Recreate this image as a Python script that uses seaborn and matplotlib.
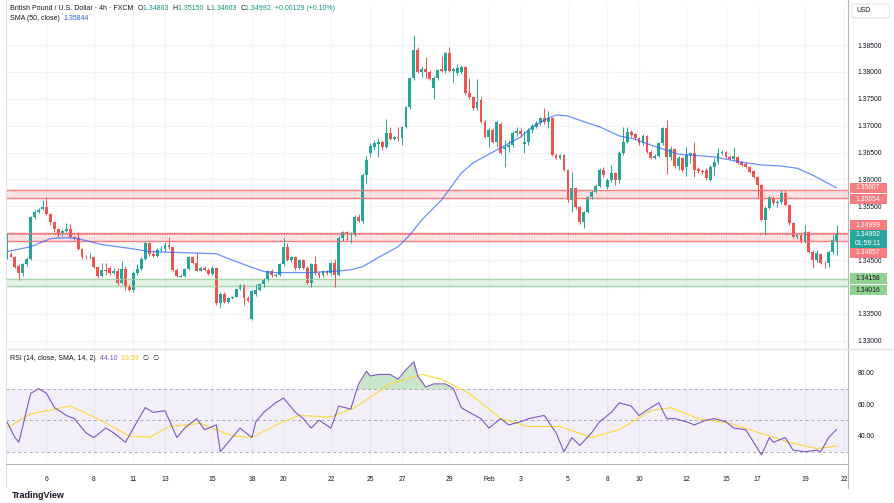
import numpy as np
import pandas as pd
import seaborn as sns
import matplotlib.pyplot as plt
from matplotlib.patches import Rectangle, FancyBboxPatch
from matplotlib.lines import Line2D

# GBP/USD 4h candles (FXCM)
opens = [
    1.3456, 1.3462, 1.3456, 1.3440, 1.3427, 1.3442, 1.3453, 1.3531, 1.3540, 1.3545,
    1.3549, 1.3536, 1.3521, 1.3508, 1.3499, 1.3504, 1.3508, 1.3494, 1.3492, 1.3471,
    1.3456, 1.3455, 1.3456, 1.3438, 1.3421, 1.3432, 1.3436, 1.3427, 1.3430, 1.3408,
    1.3434, 1.3401, 1.3395, 1.3427, 1.3434, 1.3453, 1.3482, 1.3462, 1.3458, 1.3469,
    1.3471, 1.3479, 1.3475, 1.3432, 1.3419, 1.3421, 1.3434, 1.3456, 1.3444, 1.3430,
    1.3436, 1.3432, 1.3425, 1.3436, 1.3371, 1.3388, 1.3373, 1.3379, 1.3382, 1.3397,
    1.3403, 1.3379, 1.3341, 1.3388, 1.3395, 1.3405, 1.3414, 1.3430, 1.3421, 1.3423,
    1.3442, 1.3475, 1.3451, 1.3456, 1.3436, 1.3451, 1.3436, 1.3408, 1.3442, 1.3427,
    1.3423, 1.3429, 1.3427, 1.3445, 1.3423, 1.3492, 1.3503, 1.3499, 1.3499, 1.3531,
    1.3523, 1.3608, 1.3649, 1.3660, 1.3666, 1.3670, 1.3660, 1.3687, 1.3675, 1.3679,
    1.3677, 1.3698, 1.3735, 1.3789, 1.3841, 1.3800, 1.3805, 1.3800, 1.3770, 1.3789,
    1.3805, 1.3802, 1.3835, 1.3802, 1.3798, 1.3800, 1.3809, 1.3761, 1.3753, 1.3733,
    1.3748, 1.3707, 1.3679, 1.3692, 1.3670, 1.3703, 1.3657, 1.3660, 1.3664, 1.3687,
    1.3690, 1.3666, 1.3670, 1.3692, 1.3698, 1.3705, 1.3714, 1.3707, 1.3714, 1.3646,
    1.3640, 1.3646, 1.3618, 1.3562, 1.3584, 1.3549, 1.3521, 1.3540, 1.3568, 1.3577,
    1.3588, 1.3618, 1.3586, 1.3599, 1.3612, 1.3599, 1.3649, 1.3670, 1.3688, 1.3685,
    1.3677, 1.3668, 1.3681, 1.3651, 1.3640, 1.3644, 1.3668, 1.3696, 1.3642, 1.3657,
    1.3625, 1.3640, 1.3623, 1.3646, 1.3649, 1.3620, 1.3616, 1.3618, 1.3599, 1.3623,
    1.3633, 1.3649, 1.3651, 1.3642, 1.3638, 1.3642, 1.3633, 1.3629, 1.3623, 1.3616,
    1.3605, 1.3590, 1.3525, 1.3547, 1.3566, 1.3557, 1.3558, 1.3575, 1.3553, 1.3519,
    1.3494, 1.3497, 1.3484, 1.3503, 1.3466, 1.3451, 1.3462, 1.3445, 1.3445, 1.3466,
    1.34863,
]
highs = [
    1.3501, 1.3466, 1.3458, 1.3442, 1.3444, 1.3455, 1.3532, 1.3543, 1.3547, 1.3562,
    1.3568, 1.3538, 1.3523, 1.3510, 1.3508, 1.3519, 1.3518, 1.3495, 1.3503, 1.3473,
    1.3460, 1.3464, 1.3458, 1.3440, 1.3444, 1.3444, 1.3440, 1.3436, 1.3436, 1.3449,
    1.3440, 1.3405, 1.3429, 1.3442, 1.3456, 1.3486, 1.3484, 1.3469, 1.3473, 1.3477,
    1.3484, 1.3494, 1.3477, 1.3436, 1.3425, 1.3436, 1.3458, 1.3458, 1.3464, 1.3440,
    1.3440, 1.3436, 1.3440, 1.3438, 1.3390, 1.3390, 1.3382, 1.3384, 1.3399, 1.3406,
    1.3405, 1.3384, 1.3395, 1.3405, 1.3408, 1.3416, 1.3432, 1.3434, 1.3427, 1.3444,
    1.3492, 1.3482, 1.3458, 1.3458, 1.3453, 1.3453, 1.3440, 1.3445, 1.3458, 1.3430,
    1.3432, 1.3432, 1.3447, 1.3453, 1.3495, 1.3504, 1.3504, 1.3503, 1.3534, 1.3536,
    1.3612, 1.3644, 1.3668, 1.3673, 1.3677, 1.3673, 1.3713, 1.3698, 1.3681, 1.3698,
    1.3700, 1.3737, 1.3791, 1.3869, 1.3846, 1.3811, 1.3828, 1.3804, 1.3792, 1.3805,
    1.3830, 1.3837, 1.3846, 1.3809, 1.3815, 1.3813, 1.3811, 1.3789, 1.3755, 1.3787,
    1.3753, 1.3711, 1.3696, 1.3696, 1.3711, 1.3707, 1.3673, 1.3673, 1.3690, 1.3698,
    1.3696, 1.3690, 1.3696, 1.3703, 1.3709, 1.3716, 1.3733, 1.3727, 1.3716, 1.3649,
    1.3647, 1.3647, 1.3620, 1.3614, 1.3586, 1.3551, 1.3542, 1.3570, 1.3581, 1.3592,
    1.3621, 1.3623, 1.3603, 1.3627, 1.3614, 1.3653, 1.3698, 1.3698, 1.3692, 1.3687,
    1.3679, 1.3685, 1.3683, 1.3655, 1.3647, 1.3670, 1.3698, 1.3711, 1.3662, 1.3659,
    1.3644, 1.3642, 1.3660, 1.3651, 1.3670, 1.3623, 1.3620, 1.3621, 1.3627, 1.3640,
    1.3659, 1.3655, 1.3653, 1.3646, 1.3660, 1.3644, 1.3634, 1.3633, 1.3625, 1.3618,
    1.3607, 1.3592, 1.3551, 1.3570, 1.3570, 1.3562, 1.3581, 1.3581, 1.3555, 1.3521,
    1.3499, 1.3499, 1.3516, 1.3504, 1.3468, 1.3468, 1.3464, 1.3449, 1.3469, 1.3497,
    1.35150,
]
lows = [
    1.3453, 1.3455, 1.3436, 1.3414, 1.3421, 1.3440, 1.3451, 1.3527, 1.3538, 1.3543,
    1.3534, 1.3516, 1.3503, 1.3494, 1.3495, 1.3503, 1.3492, 1.3488, 1.3469, 1.3453,
    1.3453, 1.3453, 1.3436, 1.3416, 1.3418, 1.3423, 1.3423, 1.3425, 1.3403, 1.3405,
    1.3395, 1.3392, 1.3390, 1.3423, 1.3432, 1.3451, 1.3458, 1.3456, 1.3456, 1.3466,
    1.3466, 1.3471, 1.3429, 1.3419, 1.3418, 1.3419, 1.3432, 1.3442, 1.3429, 1.3429,
    1.3429, 1.3423, 1.3423, 1.3367, 1.3362, 1.3371, 1.3371, 1.3377, 1.3381, 1.3395,
    1.3367, 1.3373, 1.3339, 1.3384, 1.3392, 1.3401, 1.3412, 1.3419, 1.3418, 1.3421,
    1.3440, 1.3449, 1.3447, 1.3432, 1.3434, 1.3434, 1.3406, 1.3401, 1.3423, 1.3416,
    1.3419, 1.3423, 1.3423, 1.3401, 1.3421, 1.3486, 1.3488, 1.3482, 1.3495, 1.3521,
    1.3519, 1.3594, 1.3642, 1.3655, 1.3642, 1.3655, 1.3659, 1.3673, 1.3673, 1.3672,
    1.3664, 1.3696, 1.3731, 1.3785, 1.3798, 1.3791, 1.3789, 1.3785, 1.3750, 1.3785,
    1.3800, 1.3798, 1.3800, 1.3781, 1.3794, 1.3796, 1.3757, 1.3750, 1.3729, 1.3729,
    1.3705, 1.3677, 1.3660, 1.3668, 1.3660, 1.3647, 1.3623, 1.3651, 1.3660, 1.3681,
    1.3679, 1.3649, 1.3664, 1.3687, 1.3696, 1.3701, 1.3703, 1.3696, 1.3644, 1.3638,
    1.3638, 1.3616, 1.3558, 1.3540, 1.3545, 1.3518, 1.3510, 1.3538, 1.3564, 1.3575,
    1.3586, 1.3605, 1.3583, 1.3596, 1.3590, 1.3594, 1.3646, 1.3668, 1.3679, 1.3673,
    1.3664, 1.3664, 1.3649, 1.3638, 1.3638, 1.3642, 1.3664, 1.3610, 1.3636, 1.3621,
    1.3618, 1.3614, 1.3607, 1.3631, 1.3605, 1.3612, 1.3610, 1.3599, 1.3597, 1.3608,
    1.3629, 1.3646, 1.3640, 1.3636, 1.3634, 1.3629, 1.3625, 1.3621, 1.3612, 1.3603,
    1.3566, 1.3523, 1.3497, 1.3545, 1.3553, 1.3549, 1.3555, 1.3551, 1.3516, 1.3492,
    1.3490, 1.3482, 1.3482, 1.3464, 1.3436, 1.3447, 1.3442, 1.3436, 1.3438, 1.3462,
    1.34603,
]
closes = [
    1.3464, 1.3456, 1.3438, 1.3427, 1.3442, 1.3453, 1.3531, 1.3540, 1.3543, 1.3549,
    1.3536, 1.3521, 1.3508, 1.3497, 1.3504, 1.3508, 1.3494, 1.3492, 1.3471, 1.3455,
    1.3455, 1.3456, 1.3438, 1.3421, 1.3432, 1.3429, 1.3427, 1.3430, 1.3408, 1.3434,
    1.3401, 1.3395, 1.3427, 1.3434, 1.3453, 1.3482, 1.3462, 1.3458, 1.3469, 1.3471,
    1.3479, 1.3475, 1.3432, 1.3421, 1.3421, 1.3434, 1.3456, 1.3444, 1.3430, 1.3436,
    1.3432, 1.3425, 1.3436, 1.3371, 1.3388, 1.3373, 1.3379, 1.3382, 1.3397, 1.3403,
    1.3379, 1.3375, 1.3392, 1.3395, 1.3405, 1.3414, 1.3430, 1.3423, 1.3423, 1.3442,
    1.3475, 1.3451, 1.3456, 1.3436, 1.3451, 1.3436, 1.3408, 1.3442, 1.3427, 1.3423,
    1.3429, 1.3427, 1.3445, 1.3423, 1.3492, 1.3503, 1.3499, 1.3501, 1.3531, 1.3523,
    1.3608, 1.3636, 1.3662, 1.3668, 1.3670, 1.3660, 1.3687, 1.3675, 1.3679, 1.3677,
    1.3698, 1.3735, 1.3789, 1.3841, 1.3800, 1.3805, 1.3800, 1.3787, 1.3789, 1.3804,
    1.3802, 1.3835, 1.3802, 1.3805, 1.3807, 1.3809, 1.3761, 1.3753, 1.3733, 1.3744,
    1.3707, 1.3679, 1.3692, 1.3670, 1.3707, 1.3649, 1.3660, 1.3664, 1.3687, 1.3690,
    1.3685, 1.3670, 1.3692, 1.3700, 1.3705, 1.3714, 1.3707, 1.3714, 1.3646, 1.3640,
    1.3646, 1.3618, 1.3562, 1.3584, 1.3549, 1.3521, 1.3540, 1.3568, 1.3577, 1.3588,
    1.3618, 1.3608, 1.3599, 1.3612, 1.3599, 1.3649, 1.3670, 1.3688, 1.3683, 1.3677,
    1.3668, 1.3681, 1.3651, 1.3640, 1.3644, 1.3668, 1.3696, 1.3642, 1.3657, 1.3625,
    1.3640, 1.3618, 1.3646, 1.3649, 1.3618, 1.3616, 1.3614, 1.3603, 1.3623, 1.3633,
    1.3649, 1.3651, 1.3642, 1.3638, 1.3644, 1.3631, 1.3627, 1.3623, 1.3614, 1.3605,
    1.3590, 1.3525, 1.3547, 1.3568, 1.3557, 1.3558, 1.3575, 1.3553, 1.3519, 1.3494,
    1.3497, 1.3484, 1.3503, 1.3466, 1.3451, 1.3464, 1.3445, 1.3444, 1.3466, 1.3488,
    1.34992,
]

# SMA(50) read at points along the line
sma_bar = [0, 6, 11, 15, 18, 24, 32, 36, 45, 53, 55, 60, 65, 68, 77, 84, 87, 90, 94,
           99, 102, 105, 110, 115, 118, 125, 130, 133, 137, 139, 142, 147, 150, 155,
           159, 163, 170, 179, 187, 191, 196, 200, 204, 210]
sma_val = [1.3466, 1.3475, 1.3490, 1.3492, 1.3490, 1.3479, 1.3471, 1.3466, 1.3464,
           1.3462, 1.3456, 1.3442, 1.3429, 1.3427, 1.3427, 1.3430, 1.3432, 1.3438,
           1.3455, 1.3475, 1.3497, 1.3525, 1.3562, 1.3612, 1.3631, 1.3659, 1.3679,
           1.3698, 1.3714, 1.3720, 1.3718, 1.3705, 1.3698, 1.3681, 1.3675, 1.3664,
           1.3647, 1.3642, 1.3631, 1.3627, 1.3625, 1.3621, 1.3608, 1.35844]

# RSI(14) and its SMA(14)
rsi_bar = [0, 2, 3, 6, 8, 10, 12, 15, 17, 20, 22, 25, 27, 30, 32, 35, 37, 40, 43, 45,
           48, 50, 53, 54, 56, 59, 62, 63, 65, 68, 70, 73, 75, 77, 79, 82, 84, 87, 89,
           91, 92, 94, 97, 99, 101, 103, 104, 106, 108, 111, 113, 115, 117, 120, 122,
           125, 127, 130, 132, 136, 139, 141, 143, 145, 148, 150, 153, 155, 158, 160,
           163, 165, 167, 169, 172, 174, 177, 179, 182, 184, 187, 189, 191, 193, 194,
           197, 199, 202, 205, 206, 208, 210]
rsi_val = [49, 39, 36, 67, 70, 67, 58, 53, 51, 42, 39, 45, 42, 36, 45, 58, 55, 56, 39,
           45, 51, 44, 47, 30, 36, 45, 39, 49, 55, 61, 64, 55, 51, 45, 50, 45, 59, 57,
           73, 81, 78, 79, 79, 76, 82, 87, 78, 71, 73, 73, 70, 58, 55, 51, 45, 51, 47,
           49, 51, 53, 42, 30, 39, 34, 42, 49, 55, 61, 59, 53, 58, 61, 51, 51, 49, 47,
           50, 51, 49, 45, 44, 36, 28, 39, 36, 39, 31, 30, 31, 30, 39, 44.10]
rsi_ma_bar = [0, 6, 16, 23, 31, 36, 41, 49, 57, 62, 69, 74, 82, 88, 97, 105, 110, 117,
              125, 132, 140, 148, 155, 163, 168, 175, 183, 193, 198, 205, 210]
rsi_ma_val = [45, 54, 59, 51, 40, 39, 46, 48, 40, 39, 48, 53, 52, 58, 73, 79, 76, 67,
              51, 46, 46, 39, 44, 56, 58, 51, 48, 40, 36, 32, 33.59]

date_ticks = [10, 22, 32, 40, 52, 62, 70, 82, 92, 100, 112, 122, 130, 142, 152, 160,
              172, 182, 190, 202, 212]
date_labels = ['6', '8', '11', '13', '15', '18', '20', '22', '25', '27', '29', 'Feb',
               '3', '5', '8', '10', '12', '15', '17', '19', '22']
price_ticks = [1.330, 1.335, 1.340, 1.345, 1.350, 1.355, 1.360, 1.365, 1.370, 1.375,
               1.380, 1.385]
hidden_ticks = [1.340, 1.350]
red_zones = [(1.35654, 1.35807), (1.34857, 1.34999)]
green_zone = (1.34016, 1.34158)
last_price = 1.34992

UP, DOWN = '#26a69a', '#ef5350'
TXT = '#131722'
GRID = '#f0f3fa'

df = pd.DataFrame({'open': opens, 'high': highs, 'low': lows, 'close': closes})
df['bar'] = np.arange(len(df))
df['color'] = np.where(df['close'] >= df['open'], UP, DOWN)

sns.set_theme(style='white')
plt.rcParams['font.family'] = ['Liberation Sans', 'DejaVu Sans']

W, H = 895, 503
fig = plt.figure(figsize=(W / 100, H / 100), dpi=100)


def box(l, t, r, b):
    return [l / W, 1 - b / H, (r - l) / W, (b - t) / H]


ax = fig.add_axes(box(6, 5, 848, 347))
ax2 = fig.add_axes(box(6, 350, 848, 462), sharex=ax)

# price panel
ax.set_xlim(-0.25, 212.9)
ax.set_ylim(1.32886, 1.39244)
for a in (ax, ax2):
    for s in a.spines.values():
        s.set_visible(False)
    a.set_xticks(date_ticks)
    a.grid(True, axis='x', color=GRID, lw=0.8)
ax.set_yticks(price_ticks)
ax.grid(True, axis='y', color=GRID, lw=0.8)

for lo, hi in red_zones:
    ax.axhspan(lo, hi, color='#f23645', alpha=0.15, lw=0)
    ax.axhline(lo, color='#f77c80', lw=1.0)
    ax.axhline(hi, color='#f77c80', lw=1.0)
ax.axhspan(*green_zone, color='#4caf50', alpha=0.14, lw=0)
ax.axhline(green_zone[0], color='#a5d6a7', lw=1.0)
ax.axhline(green_zone[1], color='#a5d6a7', lw=1.0)
ax.axhline(last_price, color='#c05a5a', lw=0.7, ls=(0, (1, 1.5)))

ax.vlines(df['bar'], df['low'], df['high'], colors=df['color'], lw=0.7)
body = (df['close'] - df['open']).abs().clip(lower=0.00006)
ax.bar(df['bar'], body, bottom=df[['open', 'close']].min(axis=1), width=0.72,
       color=df['color'], linewidth=0)

sns.lineplot(x=sma_bar, y=sma_val, ax=ax, color='#2962ff', lw=0.9, alpha=0.7)

ax.yaxis.tick_right()
ax.set_yticklabels(['' if t in hidden_ticks else f'{t:.5f}' for t in price_ticks])
ax.tick_params(axis='y', length=0, pad=7, labelsize=4.9, labelcolor=TXT)
ax.tick_params(axis='x', length=0, labelbottom=False)
ax.set_xlabel('')
ax.set_ylabel('')

# RSI panel
ax2.set_ylim(23.5, 94.5)
ax2.axhspan(30, 70, color='#7e57c2', alpha=0.09, lw=0)
for lvl in (70, 50, 30):
    ax2.axhline(lvl, color='#787b86', lw=0.7, ls=(0, (3, 3)), alpha=0.6)
rsi_arr = np.array(rsi_val, dtype=float)
ax2.fill_between(rsi_bar, 70, rsi_arr, where=rsi_arr > 70, interpolate=True,
                 color='#4caf50', alpha=0.3, lw=0)
ax2.fill_between(rsi_bar, 30, rsi_arr, where=rsi_arr < 30, interpolate=True,
                 color='#f23645', alpha=0.25, lw=0)
sns.lineplot(x=rsi_ma_bar, y=rsi_ma_val, ax=ax2, color='#fdd835', lw=0.8)
sns.lineplot(x=rsi_bar, y=rsi_val, ax=ax2, color='#7e57c2', lw=0.8)
ax2.yaxis.tick_right()
ax2.set_yticks([40, 60, 80])
ax2.set_yticklabels(['40.00', '60.00', '80.00'])
ax2.tick_params(axis='y', length=0, pad=7, labelsize=4.9, labelcolor=TXT)
ax2.set_xticklabels(date_labels)
ax2.tick_params(axis='x', length=0, pad=10, labelsize=4.9, labelcolor=TXT)
ax2.set_xlabel('')
ax2.set_ylabel('')

# frame lines
fig.add_artist(Line2D([848 / W, 848 / W], [1 - 488 / H, 1], color='#b2b5be', lw=0.8))
fig.add_artist(Line2D([6 / W, 6 / W], [1 - 488 / H, 1], color='#e0e3eb', lw=0.8))
fig.add_artist(Line2D([6 / W, 1], [1 - 348.5 / H] * 2, color='#e0e3eb', lw=1.0))
fig.add_artist(Line2D([6 / W, 848 / W], [1 - 464 / H] * 2, color='#b2b5be', lw=0.8))

# price tags on the right scale
fig.canvas.draw()


def tag(value, lines, bg, fg, shift=0, h=10.5):
    yc = ax.transData.transform((0, value))[1] + shift
    hh = h * len(lines)
    fig.add_artist(Rectangle((850, yc - hh / 2), 37, hh, transform=None,
                             facecolor=bg, edgecolor='none'))
    for i, txt in enumerate(lines):
        fig.text(855 / W, (yc + hh / 2 - h * (i + 0.5)) / H, txt, color=fg,
                 fontsize=4.9, va='center', ha='left')


tag(1.35807, ['1.35807'], '#f77c80', 'white', shift=2)
tag(1.35654, ['1.35654'], '#f77c80', 'white', shift=-1)
tag(1.34999, ['1.34999'], '#f77c80', 'white', shift=8)
tag(last_price, ['1.34992', '01:59:11'], UP, 'white', shift=-5, h=9)
tag(1.34857, ['1.34857'], '#f77c80', 'white', shift=-12)
tag(1.34158, ['1.34158'], '#8fd18f', TXT, shift=0)
tag(1.34016, ['1.34016'], '#8fd18f', TXT, shift=-4)

fig.add_artist(FancyBboxPatch((852 / W, 1 - 18 / H), 38 / W, 14 / H,
                              boxstyle='round,pad=0,rounding_size=0.004',
                              transform=fig.transFigure, facecolor='white',
                              edgecolor='#e0e3eb', lw=0.8))
fig.text(857 / W, 1 - 11 / H, 'USD', fontsize=4.9, color=TXT, va='center')


# legends: runs of text in several colours
def text_run(x, y, parts, size=5.0):
    r = fig.canvas.get_renderer()
    for s, c in parts:
        t = fig.text(x / W, 1 - y / H, s, color=c, fontsize=size, va='center')
        x += t.get_window_extent(renderer=r).width


TEAL = '#089981'
text_run(10, 9, [('British Pound / U.S. Dollar · 4h · FXCM  ', TXT),
                 ('O', TXT), ('1.34863  ', TEAL), ('H', TXT), ('1.35150  ', TEAL),
                 ('L', TXT), ('1.34603  ', TEAL), ('C', TXT), ('1.34992  ', TEAL),
                 ('+0.00129 (+0.10%)', TEAL)])
text_run(10, 19, [('SMA (50, close)  ', TXT), ('1.35844', '#2962ff')])
text_run(10, 358, [('RSI (14, close, SMA, 14, 2)  ', TXT), ('44.10  ', '#7e57c2'),
                   ('33.59  ', '#f9c80e'), ('∅  ∅', TXT)])
fig.text(12 / W, 1 - 496 / H, 'TradingView', fontsize=6.5, fontweight='bold',
         color=TXT, va='center')

fig.savefig('out.png', dpi=100)
